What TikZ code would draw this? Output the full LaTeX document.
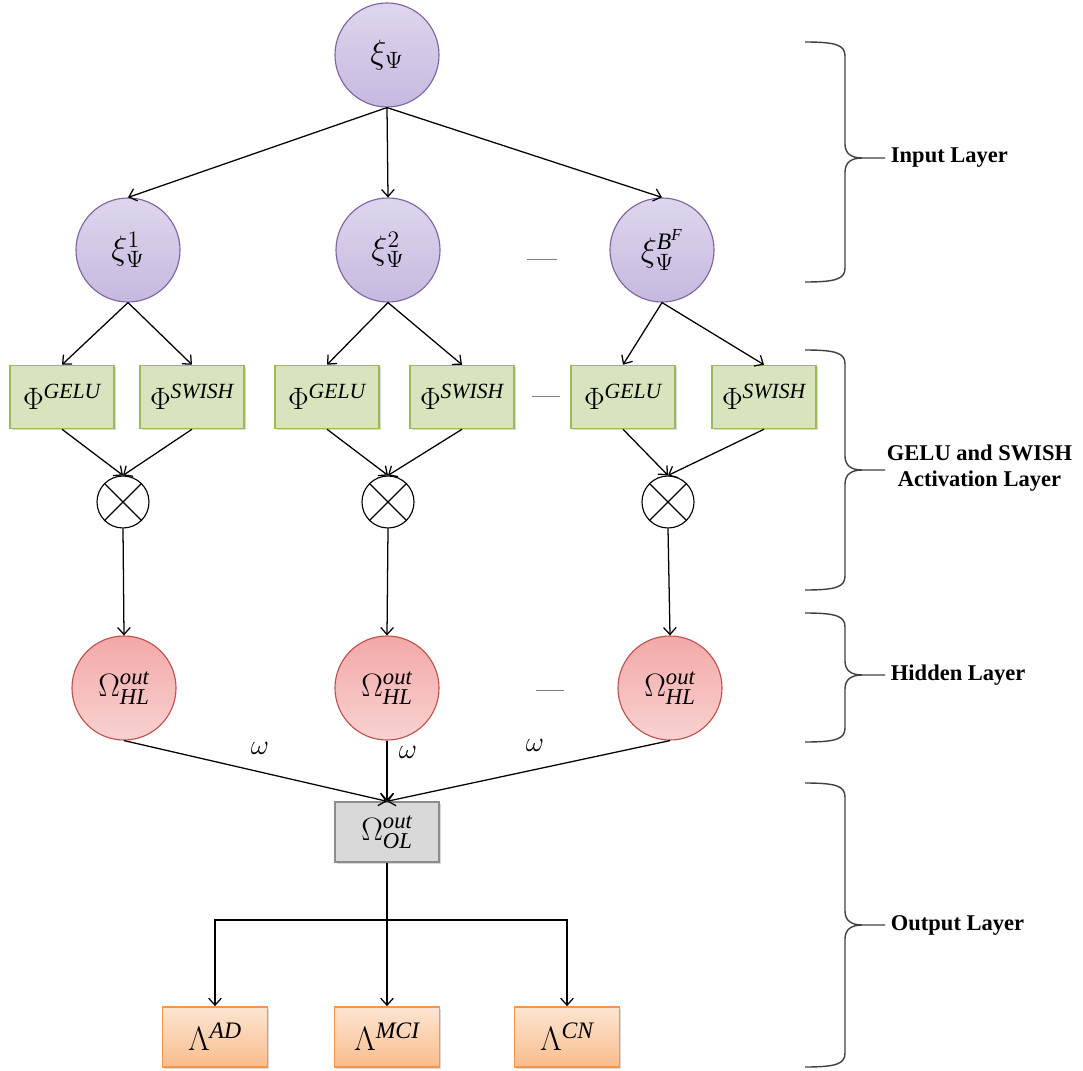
\documentclass[tikz,border=0pt]{standalone}
\usepackage{fix-cm}
\usepackage{fontspec}
\setmainfont{Liberation Serif}
\usetikzlibrary{arrows.meta,shadows}

\definecolor{inline}{HTML}{8064A2}
\definecolor{inlight}{HTML}{DED6EE}
\definecolor{indark}{HTML}{C6B9DF}
\definecolor{actline}{HTML}{9BBB59}
\definecolor{actfill}{HTML}{D7E4BD}
\definecolor{hidline}{HTML}{C0504D}
\definecolor{hidlight}{HTML}{F9D2D1}
\definecolor{hiddark}{HTML}{F2A9A7}
\definecolor{olline}{HTML}{8C8C8C}
\definecolor{olfill}{HTML}{D9D9D9}
\definecolor{clsline}{HTML}{F79646}
\definecolor{clslight}{HTML}{FDE5D2}
\definecolor{clsdark}{HTML}{F9BD8C}

\newcommand{\layerbrace}[3]{%
  \draw[brace] (805,#1) .. controls (836,#1) and (845,#1+3) .. (845,#1+14) -- (845,#2-14)
    .. controls (845,#2-4) and (852,#2) .. (862,#2) -- (885,#2);
  \draw[brace] (862,#2) .. controls (852,#2) and (845,#2+4) .. (845,#2+14) -- (845,#3-14)
    .. controls (845,#3-3) and (836,#3) .. (805,#3);
}

\begin{document}
\begin{tikzpicture}[x=0.025cm, y=-0.025cm,
  arw/.style={-{Straight Barb[length=5pt,width=9pt]}, line width=0.9pt},
  inp/.style={circle, draw=inline, line width=0.8pt, top color=inlight, bottom color=indark,
    minimum size=2.6cm, inner sep=0pt, font=\fontsize{24}{28}\selectfont},
  act/.style={rectangle, draw=actline, line width=1.2pt, fill=actfill, minimum width=2.6cm,
    minimum height=1.57cm, inner sep=0pt, font=\fontsize{22}{26}\selectfont,
    drop shadow={shadow xshift=1.2pt, shadow yshift=-1.2pt, opacity=0.3}},
  mult/.style={circle, draw, line width=0.8pt, fill=white, minimum size=1.3cm, inner sep=0pt},
  hid/.style={circle, draw=hidline, line width=0.8pt, top color=hiddark, bottom color=hidlight,
    minimum size=2.6cm, inner sep=0pt, font=\fontsize{23}{27}\selectfont},
  outbox/.style={rectangle, draw=olline, line width=1pt, fill=olfill, minimum width=2.6cm,
    minimum height=1.5cm, inner sep=0pt, font=\fontsize{23}{27}\selectfont,
    drop shadow={shadow xshift=1.2pt, shadow yshift=-1.2pt, opacity=0.3}},
  cls/.style={rectangle, draw=clsline, line width=1.2pt, top color=clslight, bottom color=clsdark,
    minimum width=2.63cm, minimum height=1.5cm, inner sep=0pt, font=\fontsize{24}{28}\selectfont,
    drop shadow={shadow xshift=1.2pt, shadow yshift=-1.2pt, opacity=0.3}},
  wt/.style={font=\fontsize{20}{24}\selectfont},
  more/.style={gray, line width=0.6pt},
  brace/.style={draw=black!75, line width=1pt},
  layer/.style={anchor=west, align=center, font=\fontsize{16}{19}\selectfont\bfseries}]
\useasboundingbox (0,0) rectangle (1083,1070);

\node[inp] (xi) at (387,55) {$\xi_{\Psi}$};
\node[inp] (xia) at (128,250) {$\xi^{1}_{\Psi}$};
\node[inp] (xib) at (388,250) {$\xi^{2}_{\Psi}$};
\node[inp] (xic) at (662,250) {$\xi^{\mathit{B}^{\mathit{F}}}_{\Psi}$};

\node[act] (gelua) at (62,397) {$\Phi^{\mathit{GELU}}$};
\node[act] (swisha) at (192,397) {$\Phi^{\mathit{SWISH}}$};
\node[act] (gelub) at (327,397) {$\Phi^{\mathit{GELU}}$};
\node[act] (swishb) at (462,397) {$\Phi^{\mathit{SWISH}}$};
\node[act] (geluc) at (623,397) {$\Phi^{\mathit{GELU}}$};
\node[act] (swishc) at (764,397) {$\Phi^{\mathit{SWISH}}$};

\node[mult] (mula) at (123,502) {};
\node[mult] (mulb) at (388,502) {};
\node[mult] (mulc) at (668,502) {};

\node[hid] (hla) at (124,688) {$\Omega^{\mathit{out}}_{\mathit{HL}}$};
\node[hid] (hlb) at (387,688) {$\Omega^{\mathit{out}}_{\mathit{HL}}$};
\node[hid] (hlc) at (670,688) {$\Omega^{\mathit{out}}_{\mathit{HL}}$};

\node[outbox] (ol) at (387,832) {$\Omega^{\mathit{out}}_{\mathit{OL}}$};
\coordinate (split) at (387,920);

\node[cls] (ad) at (215,1037) {$\Lambda^{\mathit{AD}}$};
\node[cls] (mci) at (387,1037) {$\Lambda^{\mathit{MCI}}$};
\node[cls] (cn) at (567,1037) {$\Lambda^{\mathit{CN}}$};

\node[wt] (wa) at (260,748) {$\omega$};
\node[wt] (wb) at (408,752) {$\omega$};
\node[wt] (wc) at (535,745) {$\omega$};

\draw[more] (527,259) -- (557,259);
\draw[more] (532,396) -- (560,396);
\draw[more] (536,690) -- (564,690);

\foreach \c in {xia,xib,xic}
  \draw[arw] (xi.south) -- (\c.north);

\foreach \c/\g/\s/\m/\h in {xia/gelua/swisha/mula/hla, xib/gelub/swishb/mulb/hlb, xic/geluc/swishc/mulc/hlc} {
  \draw[arw] (\c.south) -- (\g.north);
  \draw[arw] (\c.south) -- (\s.north);
  \draw[arw] (\g.south) -- (\m.north);
  \draw[arw] (\s.south) -- (\m.north);
  \draw[line width=0.8pt] (\m.north west) -- (\m.south east) (\m.north east) -- (\m.south west);
  \draw[arw] (\m.south) -- (\h.north);
  \draw[arw] (\h.south) -- (ol.north);
}

\draw[line width=0.9pt] (ol.south) -- (split);
\foreach \k in {ad,mci,cn}
  \draw[arw] (split) -| (\k.north);

\layerbrace{42}{158}{282}
\layerbrace{350}{470}{590}
\layerbrace{613}{675}{742}
\layerbrace{783}{925}{1067}

\node[layer] (inlbl) at (886,158) {Input Layer};
\node[layer] (actlbl) at (882,468) {GELU and SWISH\\Activation Layer};
\node[layer] (hidlbl) at (886,675) {Hidden Layer};
\node[layer] (outlbl) at (886,925) {Output Layer};
\end{tikzpicture}
\end{document}
